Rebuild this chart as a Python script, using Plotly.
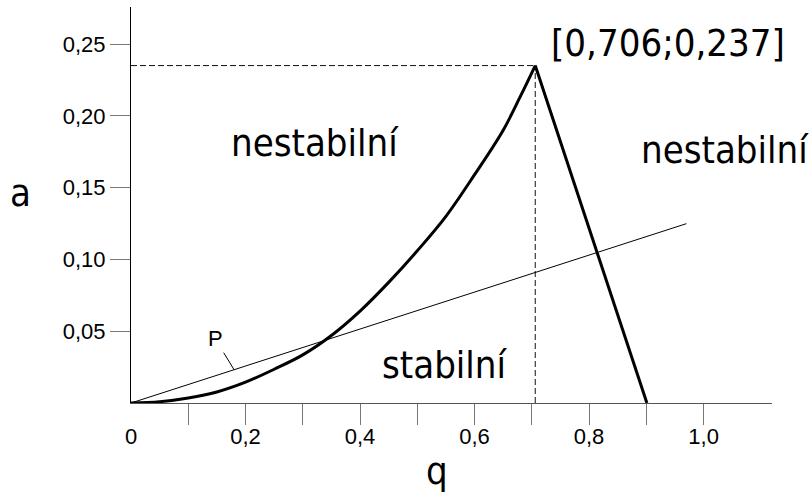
import plotly.graph_objects as go

# stability boundary, rising branch (q, a)
Q_CURVE = [0, 0.05, 0.10, 0.15, 0.20, 0.25, 0.30, 0.35, 0.40, 0.45, 0.50, 0.55, 0.60, 0.65, 0.68, 0.706]
A_CURVE = [0, 0.0009, 0.0035, 0.0077, 0.0145, 0.0235, 0.0335, 0.047, 0.064, 0.084,
           0.106, 0.130, 0.159, 0.190, 0.2135, 0.235]

# falling branch: peak -> q axis
Q_DROP = [0.706, 0.901]
A_DROP = [0.235, 0]

# straight line P
Q_P = [0, 0.97]
A_P = [0, 0.1249]

PEAK_Q, PEAK_A = 0.706, 0.235

X_TICKS = [0.1, 0.2, 0.3, 0.4, 0.5, 0.6, 0.7, 0.8, 0.9, 1.0]
X_TICKTEXT = ["", "0,2", "", "0,4", "", "0,6", "", "0,8", "", "1,0"]
Y_TICKS = [0.05, 0.10, 0.15, 0.20, 0.25]
Y_TICKTEXT = ["0,05", "0,10", "0,15", "0,20", "0,25"]

BIG_FONT = dict(family="DejaVu Sans Condensed, DejaVu Sans", size=38, color="black")
TICK_FONT = dict(family="Liberation Sans, Arial", size=22, color="black")

fig = go.Figure()

# dashed guides to the peak
dash = dict(color="#111", width=1, dash="6px,3px")
fig.add_trace(go.Scatter(x=[0, PEAK_Q], y=[PEAK_A, PEAK_A], mode="lines", line=dash))
fig.add_trace(go.Scatter(x=[PEAK_Q, PEAK_Q], y=[0, PEAK_A], mode="lines", line=dash))

fig.add_trace(go.Scatter(x=Q_P, y=A_P, mode="lines", line=dict(color="black", width=1)))
fig.add_trace(go.Scatter(x=Q_CURVE, y=A_CURVE, mode="lines",
                         line=dict(color="black", width=3, shape="spline", smoothing=1.0)))
fig.add_trace(go.Scatter(x=Q_DROP, y=A_DROP, mode="lines", line=dict(color="black", width=3)))

texts = [
    ("nestabilní", 0.322, 0.181),
    ("nestabilní", 1.038, 0.176),
    ("[0,706;0,237]", 0.937, 0.251),
    ("stabilní", 0.549, 0.0267),
]
for t, x, y in texts:
    fig.add_annotation(text=t, x=x, y=y, xref="x", yref="y", showarrow=False,
                       font=BIG_FONT, xanchor="center", yanchor="middle")

# P label with leader line
fig.add_annotation(text="P", x=0.18, y=0.0232, ax=0.147, ay=0.0448, xref="x", yref="y",
                   axref="x", ayref="y", showarrow=True, arrowhead=0, arrowwidth=1,
                   arrowcolor="black", font=dict(family="Liberation Sans, Arial", size=22, color="black"))

# axis titles
fig.add_annotation(text="a", x=-0.172, y=0.53, xref="paper", yref="paper", showarrow=False,
                   font=BIG_FONT, xanchor="center", yanchor="middle")
fig.add_annotation(text="q", x=0.478, y=-0.232, xref="paper", yref="paper", showarrow=False,
                   font=BIG_FONT, xanchor="center", yanchor="bottom")
fig.add_annotation(text="0", x=0, y=-0.085, xref="paper", yref="paper", showarrow=False,
                   font=TICK_FONT, xanchor="center", yanchor="middle")

fig.update_layout(
    width=812,
    height=496,
    margin=dict(l=131, r=40, t=7, b=93),
    paper_bgcolor="white",
    plot_bgcolor="white",
    showlegend=False,
)
fig.update_xaxes(
    range=[0, 1.1195],
    showgrid=False,
    zeroline=False,
    showline=True,
    linecolor="#555",
    linewidth=1,
    tickvals=X_TICKS,
    ticktext=X_TICKTEXT,
    ticks="outside",
    ticklen=21,
    tickcolor="#777",
    tickfont=TICK_FONT,
    ticklabelstandoff=-7,
)
fig.update_yaxes(
    range=[0, 0.2758],
    showgrid=False,
    zeroline=False,
    showline=True,
    linecolor="black",
    linewidth=1,
    tickvals=Y_TICKS,
    ticktext=Y_TICKTEXT,
    ticks="outside",
    ticklen=20,
    tickcolor="#777",
    tickfont=TICK_FONT,
)

fig.write_html("out.html", config={"displayModeBar": False},
               post_script="document.body.style.margin = '0';")
